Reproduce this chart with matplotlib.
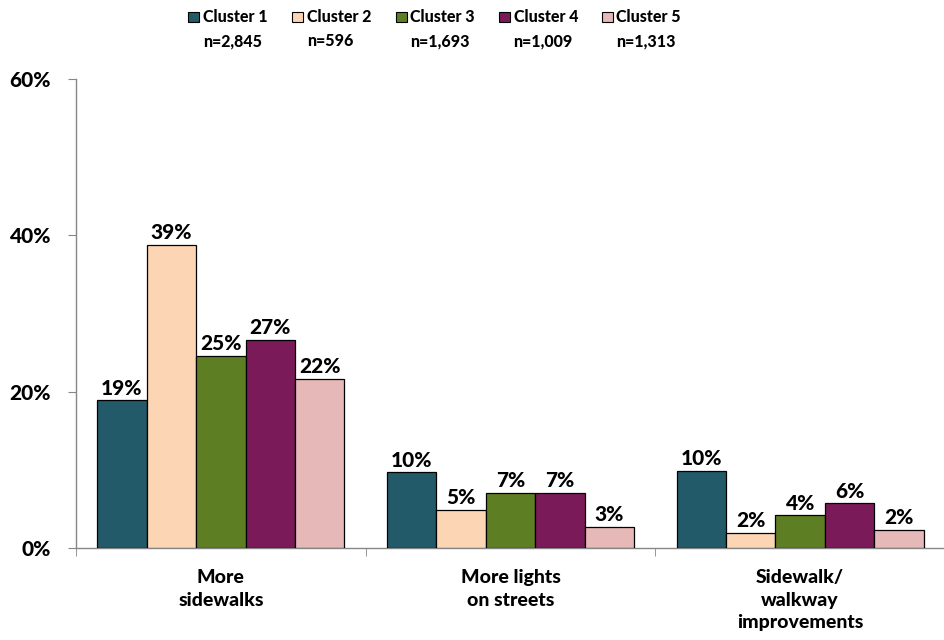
import matplotlib
matplotlib.use("Agg")
import matplotlib.pyplot as plt
import numpy as np
from matplotlib.patches import Rectangle

categories = ["More\nsidewalks", "More lights\non streets", "Sidewalk/\nwalkway\nimprovements"]
series_names = ["Cluster 1", "Cluster 2", "Cluster 3", "Cluster 4", "Cluster 5"]
series_n = ["n=2,845", "n=596", "n=1,693", "n=1,009", "n=1,313"]
cluster1 = [18.9, 9.7, 9.85]
cluster2 = [38.8, 4.9, 1.95]
cluster3 = [24.6, 7.05, 4.2]
cluster4 = [26.6, 7.05, 5.75]
cluster5 = [21.7, 2.75, 2.35]
labels1 = ["19%", "10%", "10%"]
labels2 = ["39%", "5%", "2%"]
labels3 = ["25%", "7%", "4%"]
labels4 = ["27%", "7%", "6%"]
labels5 = ["22%", "3%", "2%"]
yticks = [0, 20, 40, 60]
ytick_labels = ["0%", "20%", "40%", "60%"]

values = [cluster1, cluster2, cluster3, cluster4, cluster5]
labels = [labels1, labels2, labels3, labels4, labels5]
colors = ["#235a6a", "#fcd5b4", "#5e7e23", "#7b1a58", "#e6b8b7"]

plt.rcParams['font.family'] = ['Lato', 'DejaVu Sans']
W8 = 900

W, H = 945, 640
fig = plt.figure(figsize=(W / 100, H / 100), dpi=100)
ax_left, ax_right = 76, 945
ax_bottom, ax_top = 548.3, 79
ax = fig.add_axes([ax_left / W, 1 - ax_bottom / H, (ax_right - ax_left) / W, (ax_bottom - ax_top) / H])

cat_px = 293.0
x = np.arange(len(categories))
bw = 50.0 / cat_px
for i, (vals, lab, col) in enumerate(zip(values, labels, colors)):
    pos = x - 2 * bw + i * bw
    bars = ax.bar(pos, vals, width=bw, color=col, edgecolor="black", linewidth=0.9, zorder=3)
    for b, t in zip(bars, lab):
        ax.annotate(t, (b.get_x() + b.get_width() / 2, b.get_height()), xytext=(0, 2),
                    textcoords="offset points", ha="center", va="bottom",
                    fontsize=15, fontweight=W8, color="black")

ax.set_xlim(-0.5, -0.5 + (ax_right - ax_left) / cat_px)
ax.set_ylim(0, 60)
ax.set_yticks(yticks)
ax.set_yticklabels(ytick_labels, fontsize=15, fontweight=W8)
ax.set_xticks(x)
ax.set_xticklabels(categories, fontsize=14, fontweight=W8, linespacing=1.4, va="top")
ax.set_xticks([-0.5, 0.5, 1.5, 2.5], minor=True)
ax.tick_params(axis="x", which="major", length=0, pad=15)
ax.tick_params(axis="x", which="minor", length=6, color="#868686", direction="out")
ax.tick_params(axis="y", length=6, color="#868686", direction="out", pad=12)

for s in ["top", "right"]:
    ax.spines[s].set_visible(False)
for s in ["left", "bottom"]:
    ax.spines[s].set_color("#868686")
    ax.spines[s].set_linewidth(1.0)

# legend
marker_x = [188.5, 292.3, 395.7, 499.0, 602.0]
for mx, name, n, col in zip(marker_x, series_names, series_n, colors):
    fig.patches.append(Rectangle((mx / W, 1 - 22.3 / H), 11 / W, 10.5 / H,
                                 transform=fig.transFigure, facecolor=col,
                                 edgecolor="black", linewidth=0.8))
    fig.text((mx + 14.5) / W, 1 - 17 / H, name, fontsize=11.5, fontweight=W8, va="center", ha="left")
    fig.text((mx + 14.5) / W, 1 - 41 / H, n, fontsize=11.5, fontweight=W8, va="center", ha="left")

fig.savefig("out.png", dpi=100)
